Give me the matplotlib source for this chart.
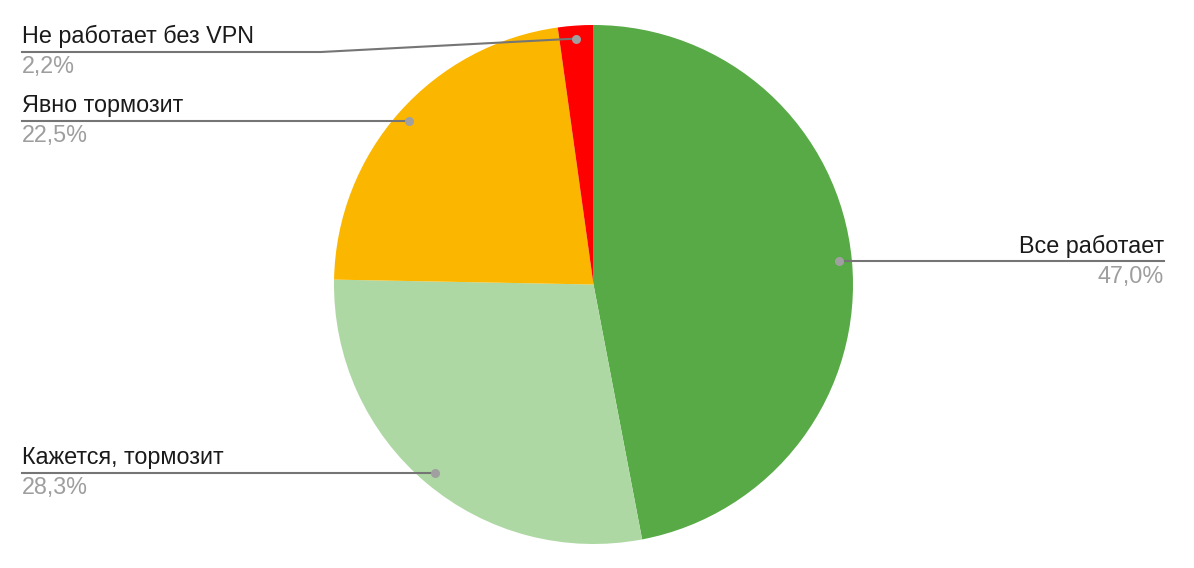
import matplotlib
matplotlib.use('Agg')
import matplotlib.pyplot as plt
import numpy as np

labels = ['Все работает', 'Кажется, тормозит', 'Явно тормозит', 'Не работает без VPN']
values = [47.0, 28.3, 22.5, 2.2]
colors = ['#57aa45', '#aed8a3', '#fbb700', '#ff0000']

W, H = 1194, 568
plt.rcParams['font.family'] = ['Liberation Sans', 'DejaVu Sans']

fig = plt.figure(figsize=(W / 100, H / 100), dpi=100)
ax = fig.add_axes([0, 0, 1, 1])
ax.axis('off')

cx, cy, R = 593.5, H - 284.5, 259.5
wedges, _ = ax.pie(values, colors=colors, startangle=90, counterclock=False,
                   center=(cx, cy), radius=R, wedgeprops=dict(linewidth=0))
ax.set_xlim(0, W)
ax.set_ylim(0, H)
ax.set_aspect('equal')

left_x, right_x, elbow_x = 22, 1164, 321
top_limit = H - 52
fs = 16.8
line_col = '#757575'

for w, lab, v in zip(wedges, labels, values):
    th = np.deg2rad((w.theta1 + w.theta2) / 2)
    dx = cx + 0.95 * R * np.cos(th)
    dy = cy + 0.95 * R * np.sin(th)
    ly = min(dy, top_limit)
    pct = ('%.1f%%' % v).replace('.', ',')
    if dx < cx:
        if ly != dy:
            ax.plot([left_x, elbow_x, dx], [ly, ly, dy], color=line_col, lw=1.5, zorder=3)
        else:
            ax.plot([left_x, dx], [ly, dy], color=line_col, lw=1.5, zorder=3)
        tx, ha = left_x, 'left'
    else:
        ax.plot([dx, right_x], [dy, ly], color=line_col, lw=1.5, zorder=3)
        tx, ha = right_x, 'right'
    ax.plot([dx], [dy], 'o', color='#a0a0a0', ms=6.5, mec='none', zorder=4)
    ax.text(tx, ly + 8.5, lab, ha=ha, va='baseline', fontsize=fs, color='#1a1a1a')
    ax.text(tx, ly - 21.5, pct, ha=ha, va='baseline', fontsize=fs, color='#9e9e9e')

fig.savefig('out.png', dpi=100)
